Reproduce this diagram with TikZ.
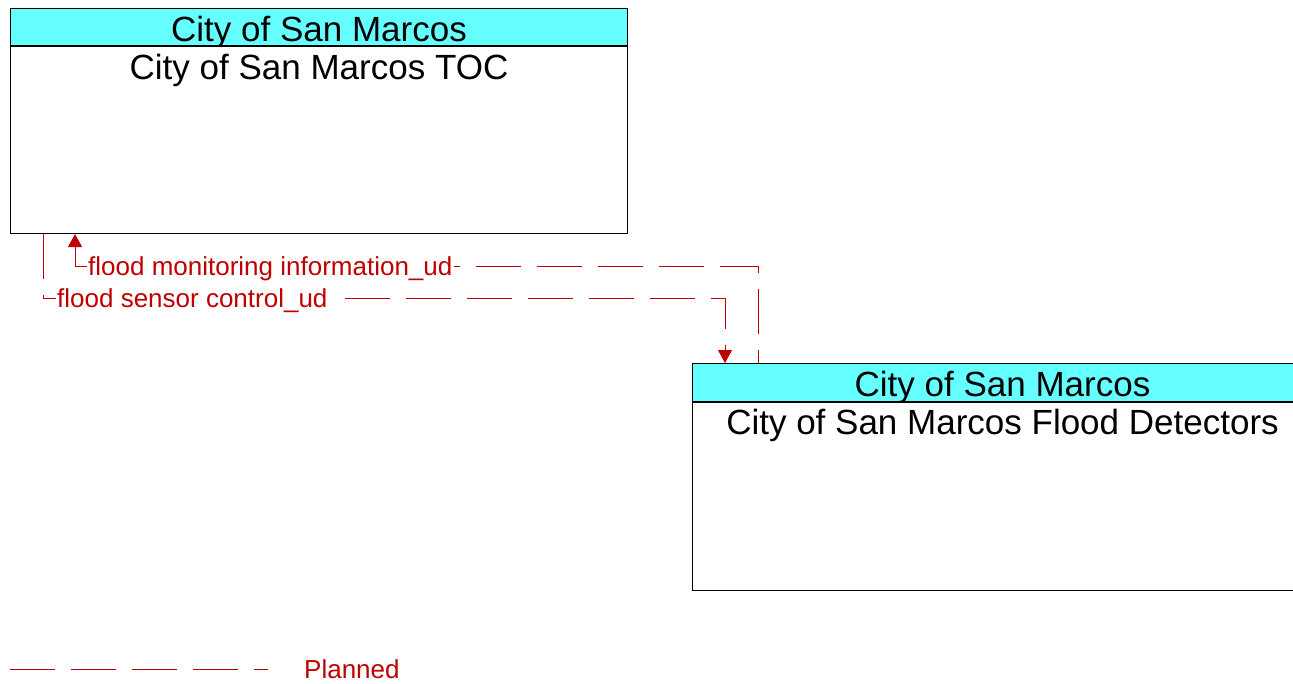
\documentclass[tikz,border=0pt]{standalone}
\definecolor{planred}{RGB}{192, 0, 0}
\definecolor{hdrcyan}{RGB}{102, 255, 255}
\usepackage{fontspec}
\setmainfont{Liberation Sans}
\usepackage{tikz}
\usetikzlibrary{arrows.meta, positioning, calc}

\begin{document}
\begin{tikzpicture}[x=1pt, y=-1pt, >={Triangle[length=13pt, width=14pt]},
  hdr/.style={draw=black, line width=1pt, fill=hdrcyan, anchor=north west,
    inner sep=0pt, text height=28pt, text depth=0pt,
    font=\fontsize{35}{42}\selectfont},
  body/.style={draw=black, line width=1pt, fill=white, anchor=north west, inner sep=0pt},
  title/.style={anchor=base, inner sep=0pt, font=\fontsize{35}{42}\selectfont},
  planned/.style={planred, line width=1pt, dash pattern=on 45pt off 16pt},
  lbl/.style={anchor=base west, fill=white, inner xsep=1.5pt, inner ysep=1pt,
    text=planred, font=\fontsize{26}{31}\selectfont}]
  \useasboundingbox (0,0) rectangle (1293,683);
  % TOC
  \node[hdr, minimum width=617pt, minimum height=37pt] (tochdr) at (10,8) {City of San Marcos};
  \node[body, minimum width=617pt, minimum height=187pt] (toc) at (tochdr.south west) {};
  \node[title] (toctitle) at ([yshift=-33pt]toc.north) {City of San Marcos TOC};
  % Flood detectors
  \node[hdr, minimum width=620pt, minimum height=38pt] (fdhdr) at (692,363) {City of San Marcos};
  \node[body, minimum width=620pt, minimum height=188pt] (fd) at (fdhdr.south west) {};
  \node[title] (fdtitle) at ([yshift=-32pt]fd.north) {City of San Marcos Flood Detectors};
  % Flows
  \draw[planned, dash phase=7pt, <-] ([xshift=65pt]toc.south west)
    |- ([xshift=66pt, yshift=97pt]fdhdr.north west) -- ([xshift=66pt]fdhdr.north west);
  \draw[planned, ->] ([xshift=33pt]toc.south west)
    |- ([xshift=33pt, yshift=65pt]fdhdr.north west) -- ([xshift=33pt]fdhdr.north west);
  \node[lbl] (lblmon) at (86.5,275.5) {flood monitoring information\_ud};
  \node[lbl] (lblsen) at (55.5,307.5) {flood sensor control\_ud};
  % Legend
  \coordinate (legA) at (10,669);
  \coordinate (legB) at (268,669);
  \draw[planned] (legA) -- (legB);
  \node[lbl, fill=none] (legtxt) at (302.5,678) {Planned};
\end{tikzpicture}
\end{document}
